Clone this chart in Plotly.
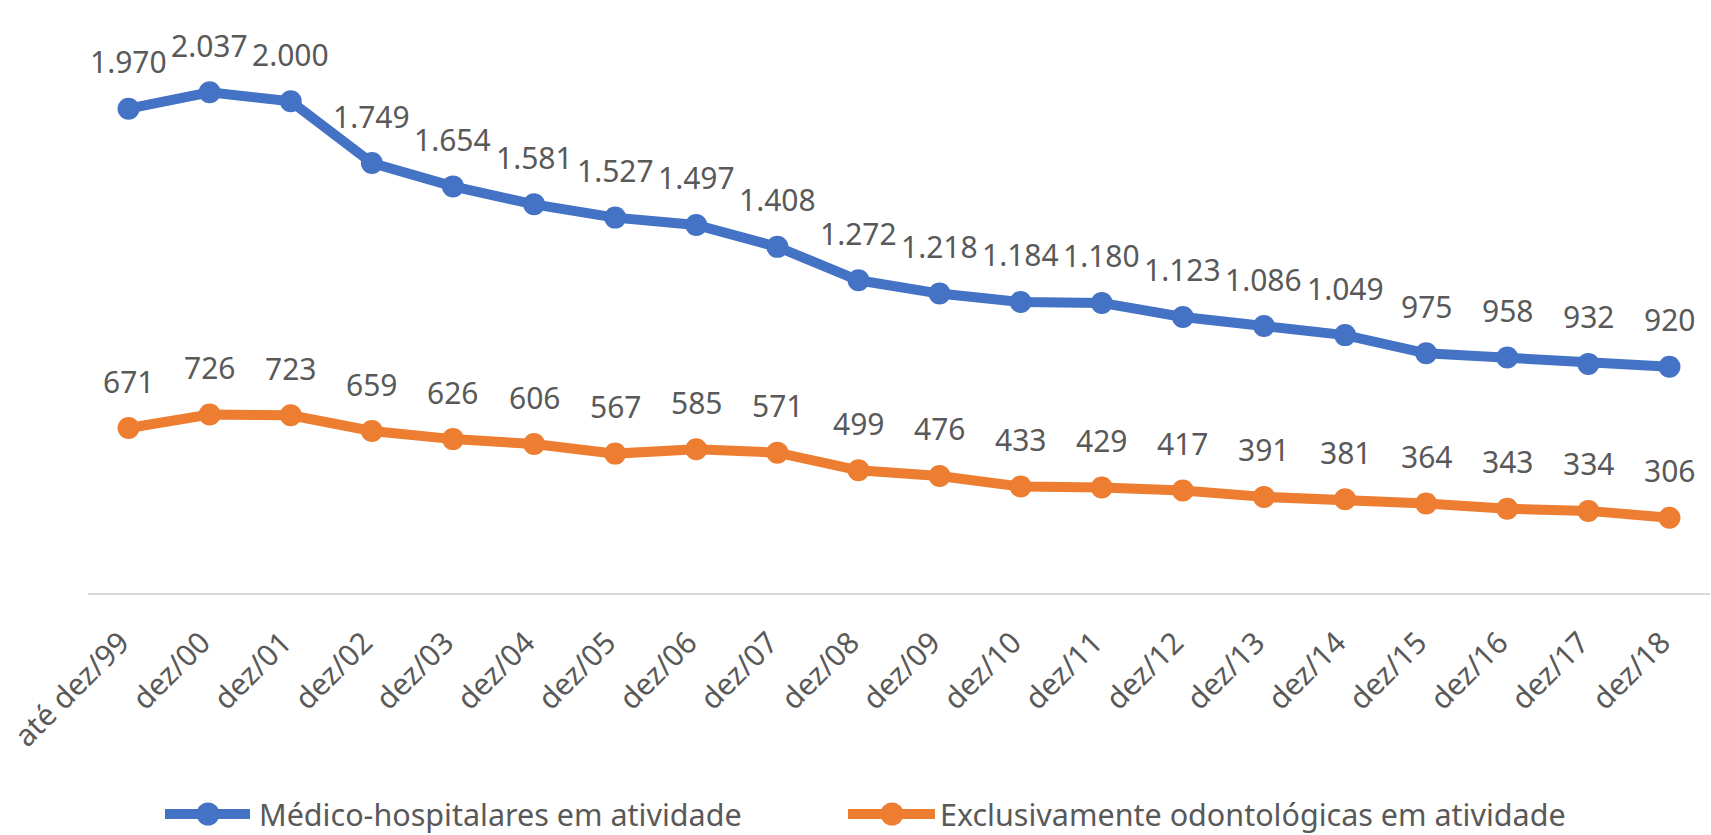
import plotly.graph_objects as go

categories = ["até dez/99", "dez/00", "dez/01", "dez/02", "dez/03", "dez/04", "dez/05",
              "dez/06", "dez/07", "dez/08", "dez/09", "dez/10", "dez/11", "dez/12",
              "dez/13", "dez/14", "dez/15", "dez/16", "dez/17", "dez/18"]
medico = [1970, 2037, 2000, 1749, 1654, 1581, 1527, 1497, 1408, 1272, 1218, 1184, 1180,
          1123, 1086, 1049, 975, 958, 932, 920]
odonto = [671, 726, 723, 659, 626, 606, 567, 585, 571, 499, 476, 433, 429, 417, 391, 381,
          364, 343, 334, 306]
series_names = ["Médico-hospitalares em atividade", "Exclusivamente odontológicas em atividade"]
colors = ["#4472C4", "#ED7D31"]

FONT = "Noto Sans"
TXT = "#595959"

W, H = 1711, 835
ML, MR, MT, MB = 88, 1, 3, 242
PW = W - ML - MR
PH = H - MT - MB


def px_x(px):
    return (px - ML) / PW


def px_y(py):
    return (H - MB - py) / PH


def fmt(v):
    return f"{v:,}".replace(",", ".")


fig = go.Figure()
for name, vals, col in zip(series_names, [medico, odonto], colors):
    fig.add_trace(go.Scatter(
        x=list(range(len(categories))), y=vals, name=name, mode="lines+markers",
        line=dict(color=col, width=10), marker=dict(color=col, size=22),
        cliponaxis=False, showlegend=False,
    ))

annotations = []
for vals in [medico, odonto]:
    for i, v in enumerate(vals):
        annotations.append(dict(
            x=i, y=v, xref="x", yref="y", text=fmt(v), showarrow=False,
            yshift=47, font=dict(family=FONT, size=30, color=TXT),
        ))

# custom legend (line + marker symbol, then label)
shapes = []
legend_items = [(165, 250, 208, 257), (848, 935, 892, 938)]  # line x0, x1, marker x, text x
LEG_Y = 814
for (lx0, lx1, mx, tx), name, col in zip(legend_items, series_names, colors):
    shapes.append(dict(type="line", xref="paper", yref="paper",
                       x0=px_x(lx0), x1=px_x(lx1), y0=px_y(LEG_Y), y1=px_y(LEG_Y),
                       line=dict(color=col, width=10)))
    shapes.append(dict(type="circle", xref="paper", yref="paper",
                       xsizemode="pixel", ysizemode="pixel",
                       xanchor=px_x(mx), yanchor=px_y(LEG_Y),
                       x0=-11.5, x1=11.5, y0=-11.5, y1=11.5,
                       fillcolor=col, line=dict(width=0)))
    annotations.append(dict(x=px_x(tx), y=px_y(LEG_Y), xref="paper", yref="paper",
                            xanchor="left", yanchor="middle", showarrow=False,
                            text=name, font=dict(family=FONT, size=30.5, color=TXT)))

fig.update_layout(
    width=W, height=H,
    margin=dict(l=ML, r=MR, t=MT, b=MB),
    paper_bgcolor="white", plot_bgcolor="white",
    showlegend=False,
    annotations=annotations,
    shapes=shapes,
    font=dict(family=FONT, color=TXT),
)
fig.update_xaxes(
    range=[-0.5, len(categories) - 0.5],
    tickmode="array", tickvals=list(range(len(categories))), ticktext=categories,
    tickangle=-45, tickfont=dict(family=FONT, size=30, color=TXT),
    ticklabelstandoff=18, ticklabelshift=-8,
    showline=True, linecolor="#D9D9D9", linewidth=2, showgrid=False, zeroline=False,
    ticks="",
)
fig.update_yaxes(range=[0, 2400], visible=False, showgrid=False, zeroline=False)

fig.write_html("out.html", config={"displayModeBar": False},
               post_script="document.body.style.margin='0';document.body.style.overflow='hidden';")
